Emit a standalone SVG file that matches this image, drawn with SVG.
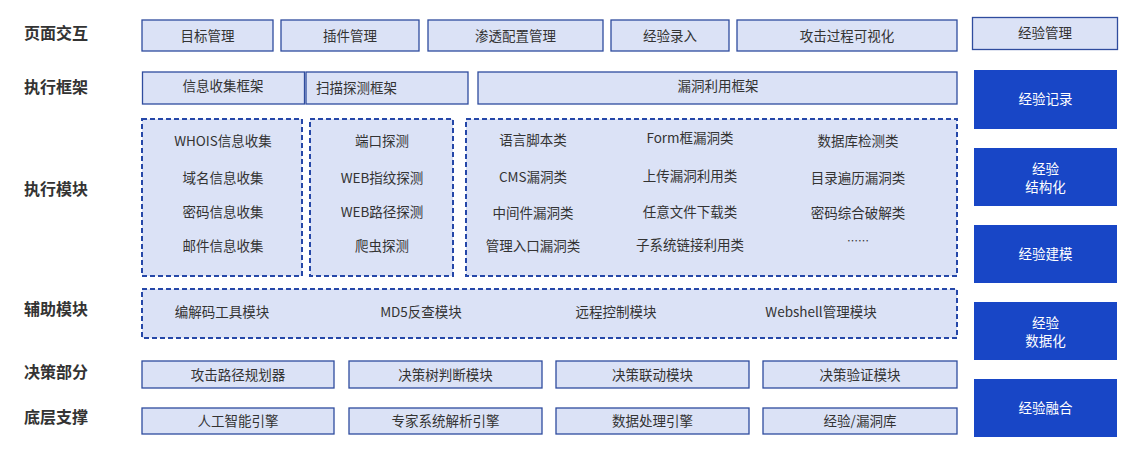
<svg xmlns="http://www.w3.org/2000/svg" width="1139" height="462" viewBox="0 0 1139 462">
<style>
text{font-family:"Noto Sans CJK SC","Liberation Sans",sans-serif;dominant-baseline:central;text-anchor:middle;transform:translateY(-1px)}
.lbl{font-size:16px;font-weight:bold;fill:#333;text-anchor:start}
.t{font-size:13.5px;fill:#333}
.w{font-size:13.5px;fill:#fff}
.box{fill:#dbe2f6;stroke:#2f4c9e;stroke-width:1.3}
.dash{fill:#dbe2f6;stroke:#2547a8;stroke-width:2;stroke-dasharray:5 3}
.blue{fill:#1846c6}
</style>
<rect width="1139" height="462" fill="#fff"/>
<g id="labels">
<text class="lbl" x="24" y="33">页面交互</text>
<text class="lbl" x="24" y="87">执行框架</text>
<text class="lbl" x="24" y="189">执行模块</text>
<text class="lbl" x="24" y="309">辅助模块</text>
<text class="lbl" x="24" y="372">决策部分</text>
<text class="lbl" x="24" y="417">底层支撑</text>
</g>
<g id="row-ui">
<g id="n-target"><rect class="box" x="142" y="20" width="131" height="31"/><text class="t" x="207.5" y="36">目标管理</text></g>
<g id="n-plugin"><rect class="box" x="281" y="20" width="138" height="31"/><text class="t" x="350" y="36">插件管理</text></g>
<g id="n-pentest"><rect class="box" x="428" y="20" width="175" height="31"/><text class="t" x="515.5" y="36">渗透配置管理</text></g>
<g id="n-expinput"><rect class="box" x="611" y="20" width="118" height="31"/><text class="t" x="670" y="36">经验录入</text></g>
<g id="n-visual"><rect class="box" x="737" y="20" width="220" height="31"/><text class="t" x="847" y="36">攻击过程可视化</text></g>
</g>
<g id="row-framework">
<g id="n-infofw"><rect class="box" x="142.5" y="72" width="162" height="32"/><text class="t" x="223" y="86">信息收集框架</text></g>
<g id="n-scanfw"><rect class="box" x="306" y="72" width="162" height="32"/><text class="t" x="316" y="88" style="text-anchor:start">扫描探测框架</text></g>
<g id="n-exploitfw"><rect class="box" x="478" y="72" width="479" height="32"/><text class="t" x="718" y="86">漏洞利用框架</text></g>
</g>
<g id="row-modules">
<g id="n-infomod"><rect class="dash" x="142" y="119" width="160" height="157"/>
<text class="t" x="223" y="141">WHOIS信息收集</text>
<text class="t" x="223" y="178">域名信息收集</text>
<text class="t" x="223" y="212">密码信息收集</text>
<text class="t" x="223" y="246">邮件信息收集</text></g>
<g id="n-scanmod"><rect class="dash" x="310" y="119" width="143" height="157"/>
<text class="t" x="382" y="141">端口探测</text>
<text class="t" x="382" y="178">WEB指纹探测</text>
<text class="t" x="382" y="212">WEB路径探测</text>
<text class="t" x="382" y="246">爬虫探测</text></g>
<g id="n-exploitmod"><rect class="dash" x="466" y="119" width="491" height="157"/>
<text class="t" x="533" y="140">语言脚本类</text>
<text class="t" x="690" y="138">Form框漏洞类</text>
<text class="t" x="858" y="141">数据库检测类</text>
<text class="t" x="533" y="177">CMS漏洞类</text>
<text class="t" x="690" y="176">上传漏洞利用类</text>
<text class="t" x="858" y="178">目录遍历漏洞类</text>
<text class="t" x="533" y="213">中间件漏洞类</text>
<text class="t" x="690" y="212">任意文件下载类</text>
<text class="t" x="858" y="213">密码综合破解类</text>
<text class="t" x="533" y="246">管理入口漏洞类</text>
<text class="t" x="690" y="245">子系统链接利用类</text>
<text class="t" x="858" y="241" style="font-size:11px">……</text></g>
</g>
<g id="row-aux">
<g id="n-aux"><rect class="dash" x="142" y="289" width="815" height="49"/>
<text class="t" x="222" y="312">编解码工具模块</text>
<text class="t" x="421" y="312">MD5反查模块</text>
<text class="t" x="616" y="312">远程控制模块</text>
<text class="t" x="821" y="312">Webshell管理模块</text></g>
</g>
<g id="row-decision">
<g id="n-path"><rect class="box" x="142" y="361" width="192" height="27"/><text class="t" x="238" y="375">攻击路径规划器</text></g>
<g id="n-tree"><rect class="box" x="349" y="361" width="193" height="27"/><text class="t" x="445.5" y="375">决策树判断模块</text></g>
<g id="n-link"><rect class="box" x="556" y="361" width="193" height="27"/><text class="t" x="652.5" y="375">决策联动模块</text></g>
<g id="n-verify"><rect class="box" x="763" y="361" width="194" height="27"/><text class="t" x="860" y="375">决策验证模块</text></g>
</g>
<g id="row-base">
<g id="n-ai"><rect class="box" x="142" y="408" width="192" height="26"/><text class="t" x="238" y="421">人工智能引擎</text></g>
<g id="n-expert"><rect class="box" x="349" y="408" width="193" height="26"/><text class="t" x="445.5" y="421">专家系统解析引擎</text></g>
<g id="n-data"><rect class="box" x="556" y="408" width="193" height="26"/><text class="t" x="652.5" y="421">数据处理引擎</text></g>
<g id="n-vulndb"><rect class="box" x="763" y="408" width="194" height="26"/><text class="t" x="860" y="421">经验/漏洞库</text></g>
</g>
<g id="experience">
<g id="n-expmgmt"><rect class="box" x="972.5" y="17.5" width="145" height="32"/><text class="t" x="1045" y="33">经验管理</text></g>
<g id="n-exprec"><rect class="blue" x="974" y="70" width="143" height="59"/><text class="w" x="1045.5" y="99">经验记录</text></g>
<g id="n-expstruct"><rect class="blue" x="974" y="148" width="143" height="58"/><text class="w" x="1045.5" y="169">经验<tspan x="1045.5" dy="18">结构化</tspan></text></g>
<g id="n-expmodel"><rect class="blue" x="974" y="225" width="143" height="58"/><text class="w" x="1045.5" y="254">经验建模</text></g>
<g id="n-expdata"><rect class="blue" x="974" y="302" width="143" height="58"/><text class="w" x="1045.5" y="323">经验<tspan x="1045.5" dy="18">数据化</tspan></text></g>
<g id="n-expfuse"><rect class="blue" x="974" y="379" width="143" height="58"/><text class="w" x="1045.5" y="408">经验融合</text></g>
</g>
<g id="connectors"></g>
</svg>
